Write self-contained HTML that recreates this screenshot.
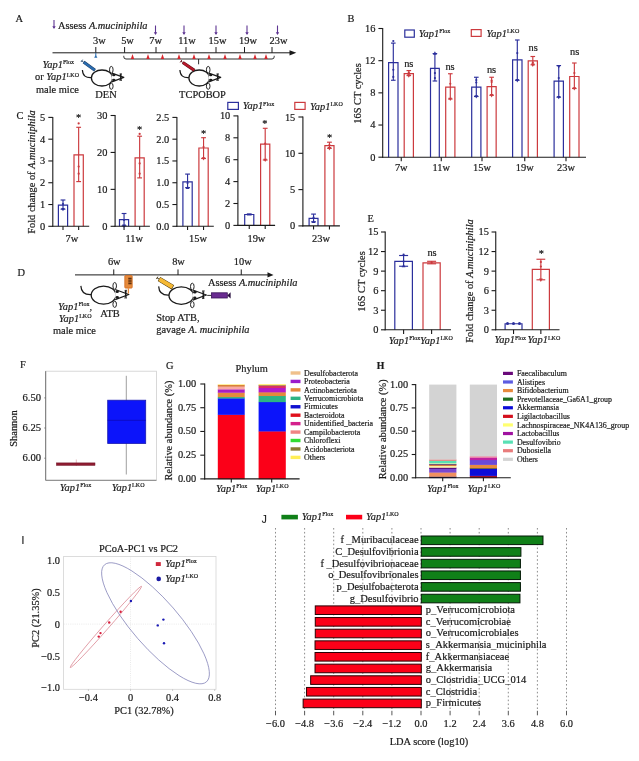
<!DOCTYPE html>
<html><head><meta charset="utf-8"><title>Figure</title>
<style>
html,body{margin:0;padding:0;background:#fff;}
svg{display:block;font-family:"Liberation Serif",serif;filter:blur(0.4px);}
text{stroke:#1a1a1a;stroke-width:0.2px;}
</style></head><body>
<svg width="639" height="761" viewBox="0 0 639 761">
<rect x="0" y="0" width="639" height="761" fill="#ffffff"/>
<text x="15.5" y="22" font-size="10.4" text-anchor="start" fill="#1a1a1a">A</text>
<line x1="54" y1="20" x2="54" y2="28" stroke="#5e3592" stroke-width="1.1"/>
<path d="M52.3,26.2 L54,29 L55.7,26.2 Z" fill="#5e3592"/>
<text x="58" y="29" font-size="10.4" fill="#1a1a1a">Assess <tspan font-style="italic">A.muciniphila</tspan></text>
<line x1="52.5" y1="52.8" x2="291" y2="52.8" stroke="#1a1a1a" stroke-width="1"/>
<path d="M289.5,50.199999999999996 L296.3,52.8 L289.5,55.4 Z" fill="#1a1a1a"/>
<line x1="95.8" y1="47.0" x2="95.8" y2="52.8" stroke="#1a1a1a" stroke-width="1"/>
<line x1="124.6" y1="47.0" x2="124.6" y2="52.8" stroke="#1a1a1a" stroke-width="1"/>
<line x1="156" y1="47.0" x2="156" y2="52.8" stroke="#1a1a1a" stroke-width="1"/>
<line x1="186" y1="47.0" x2="186" y2="52.8" stroke="#1a1a1a" stroke-width="1"/>
<line x1="216" y1="47.0" x2="216" y2="52.8" stroke="#1a1a1a" stroke-width="1"/>
<line x1="244.5" y1="47.0" x2="244.5" y2="52.8" stroke="#1a1a1a" stroke-width="1"/>
<line x1="272" y1="47.0" x2="272" y2="52.8" stroke="#1a1a1a" stroke-width="1"/>
<text x="99.4" y="44" font-size="10.4" text-anchor="middle" fill="#1a1a1a">3w</text>
<text x="127.5" y="44" font-size="10.4" text-anchor="middle" fill="#1a1a1a">5w</text>
<text x="155.6" y="44" font-size="10.4" text-anchor="middle" fill="#1a1a1a">7w</text>
<text x="187" y="44" font-size="10.4" text-anchor="middle" fill="#1a1a1a">11w</text>
<text x="217.5" y="44" font-size="10.4" text-anchor="middle" fill="#1a1a1a">15w</text>
<text x="248" y="44" font-size="10.4" text-anchor="middle" fill="#1a1a1a">19w</text>
<text x="278.5" y="44" font-size="10.4" text-anchor="middle" fill="#1a1a1a">23w</text>
<line x1="155.5" y1="25.5" x2="155.5" y2="34" stroke="#5e3592" stroke-width="1.1"/>
<path d="M153.8,32.2 L155.5,35 L157.2,32.2 Z" fill="#5e3592"/>
<line x1="184" y1="25.5" x2="184" y2="34" stroke="#5e3592" stroke-width="1.1"/>
<path d="M182.3,32.2 L184,35 L185.7,32.2 Z" fill="#5e3592"/>
<line x1="216" y1="25.5" x2="216" y2="34" stroke="#5e3592" stroke-width="1.1"/>
<path d="M214.3,32.2 L216,35 L217.7,32.2 Z" fill="#5e3592"/>
<line x1="247" y1="25.5" x2="247" y2="34" stroke="#5e3592" stroke-width="1.1"/>
<path d="M245.3,32.2 L247,35 L248.7,32.2 Z" fill="#5e3592"/>
<line x1="277.5" y1="25.5" x2="277.5" y2="34" stroke="#5e3592" stroke-width="1.1"/>
<path d="M275.8,32.2 L277.5,35 L279.2,32.2 Z" fill="#5e3592"/>
<line x1="95.8" y1="52.8" x2="95.8" y2="55.8" stroke="#2a6cb0" stroke-width="1"/>
<path d="M94.2,57.68 L97.39999999999999,57.68 L95.8,54.8 Z" fill="#2a6cb0"/>
<path d="M123.8,55.8 L123.8,56.8 Q123.8,59 126,59 L272,59 Q274.2,59 274.2,56.8 L274.2,55.8" fill="none" stroke="#1a1a1a" stroke-width="0.9"/>
<line x1="198.6" y1="59" x2="198.6" y2="64.3" stroke="#1a1a1a" stroke-width="0.9"/>
<path d="M130.8,58.9 L134.2,58.9 L132.5,54 Z" fill="#d8262c"/>
<path d="M146.3,58.9 L149.7,58.9 L148,54 Z" fill="#d8262c"/>
<path d="M160.8,58.9 L164.2,58.9 L162.5,54 Z" fill="#d8262c"/>
<path d="M177.3,58.9 L180.7,58.9 L179,54 Z" fill="#d8262c"/>
<path d="M192.3,58.9 L195.7,58.9 L194,54 Z" fill="#d8262c"/>
<path d="M207.3,58.9 L210.7,58.9 L209,54 Z" fill="#d8262c"/>
<path d="M223.3,58.9 L226.7,58.9 L225,54 Z" fill="#d8262c"/>
<path d="M238.3,58.9 L241.7,58.9 L240,54 Z" fill="#d8262c"/>
<path d="M253.3,58.9 L256.7,58.9 L255,54 Z" fill="#d8262c"/>
<path d="M264.3,58.9 L267.7,58.9 L266,54 Z" fill="#d8262c"/>
<path d="M91.4,77.5 C85.9,77.8 82.7,76.0 82.4,70.0" fill="none" stroke="#1a1a1a" stroke-width="1.2"/>
<ellipse cx="111.3" cy="69.8" rx="1.8" ry="3.4" fill="#fff" stroke="#1a1a1a" stroke-width="0.95"/>
<ellipse cx="111.3" cy="86.2" rx="1.8" ry="3.1" fill="#fff" stroke="#1a1a1a" stroke-width="0.95"/>
<ellipse cx="102" cy="78" rx="10.6" ry="8" fill="#fff" stroke="#1a1a1a" stroke-width="1.3"/>
<path d="M111.8,73.1 L123.8,77.4 L111.8,81.9" fill="#fff" stroke="#1a1a1a" stroke-width="1.25" stroke-linejoin="round"/>
<ellipse cx="113.8" cy="75.0" rx="1.7" ry="1.3" fill="#1a1a1a"/>
<ellipse cx="113.8" cy="80.0" rx="1.7" ry="1.3" fill="#1a1a1a"/>
<line x1="120.2" y1="73.4" x2="121.2" y2="81.0" stroke="#1a1a1a" stroke-width="1.2"/>
<line x1="121.5" y1="73.4" x2="119.89999999999999" y2="81.0" stroke="#1a1a1a" stroke-width="0.9"/>
<line x1="81.8140303399064" y1="60.81535515677478" x2="83.6" y2="62.1" stroke="#1c3f66" stroke-width="0.9"/>
<line x1="80.9965290760358" y1="61.95188130410707" x2="82.63153160377699" y2="59.67882900944249" stroke="#1c3f66" stroke-width="0.9"/>
<line x1="83.60" y1="62.10" x2="95.00" y2="70.30" stroke="#1c3f66" stroke-width="3.1"/>
<line x1="83.97" y1="62.36" x2="94.63" y2="70.04" stroke="#2a6cb0" stroke-width="2.2"/>
<path d="M188.89999999999998,77.5 C183.39999999999998,77.8 180.2,76.0 179.89999999999998,70.0" fill="none" stroke="#1a1a1a" stroke-width="1.2"/>
<ellipse cx="208.2" cy="69.8" rx="1.8" ry="3.4" fill="#fff" stroke="#1a1a1a" stroke-width="0.95"/>
<ellipse cx="208.2" cy="86.2" rx="1.8" ry="3.1" fill="#fff" stroke="#1a1a1a" stroke-width="0.95"/>
<ellipse cx="199.2" cy="78" rx="10.3" ry="8" fill="#fff" stroke="#1a1a1a" stroke-width="1.3"/>
<path d="M208.7,73.1 L220.7,77.4 L208.7,81.9" fill="#fff" stroke="#1a1a1a" stroke-width="1.25" stroke-linejoin="round"/>
<ellipse cx="210.7" cy="75.0" rx="1.7" ry="1.3" fill="#1a1a1a"/>
<ellipse cx="210.7" cy="80.0" rx="1.7" ry="1.3" fill="#1a1a1a"/>
<line x1="217.1" y1="73.4" x2="218.1" y2="81.0" stroke="#1a1a1a" stroke-width="1.2"/>
<line x1="218.39999999999998" y1="73.4" x2="216.79999999999998" y2="81.0" stroke="#1a1a1a" stroke-width="0.9"/>
<line x1="180.98163682498821" y1="61.26163197563851" x2="182.8" y2="62.5" stroke="#5a0c14" stroke-width="0.9"/>
<line x1="180.1935844458491" y1="62.41877217791875" x2="181.76968920412733" y2="60.10449177335827" stroke="#5a0c14" stroke-width="0.9"/>
<line x1="182.80" y1="62.50" x2="194.40" y2="70.40" stroke="#5a0c14" stroke-width="3.1"/>
<line x1="183.17" y1="62.75" x2="194.03" y2="70.15" stroke="#b8182a" stroke-width="2.2"/>
<text x="42.5" y="67.8" font-size="10.4" text-anchor="start" fill="#1a1a1a"><tspan font-style="italic">Yap1</tspan><tspan font-size="6.03" dy="-3.74">Flox</tspan></text>
<text x="35" y="80.3" font-size="10.4" text-anchor="start" fill="#1a1a1a">or <tspan font-style="italic">Yap1</tspan><tspan font-size="6.03" dy="-3.74">LKO</tspan></text>
<text x="36" y="93" font-size="10.4" text-anchor="start" fill="#1a1a1a">male mice</text>
<text x="106" y="98" font-size="10.4" text-anchor="middle" fill="#1a1a1a">DEN</text>
<text x="202.5" y="98" font-size="10.4" text-anchor="middle" fill="#1a1a1a">TCPOBOP</text>
<rect x="227.80" y="102.40" width="10.60" height="7.00" fill="#fff" stroke="#2b2f9c" stroke-width="1.2"/>
<text x="242.7" y="109.4" font-size="10.4" text-anchor="start" fill="#1a1a1a"><tspan font-style="italic">Yap1</tspan><tspan font-size="6.03" dy="-3.74">Flox</tspan></text>
<rect x="294.80" y="102.40" width="10.30" height="7.00" fill="#fff" stroke="#cc3a3e" stroke-width="1.2"/>
<text x="310" y="109.5" font-size="10.4" text-anchor="start" fill="#1a1a1a"><tspan font-style="italic">Yap1</tspan><tspan font-size="6.03" dy="-3.74">LKO</tspan></text>
<text x="347.5" y="22" font-size="10.4" text-anchor="start" fill="#1a1a1a">B</text>
<path d="M388.60,157.20 L388.60,62.69 L398.00,62.69 L398.00,157.20" fill="#fff" stroke="#2b2f9c" stroke-width="1.2" stroke-linejoin="miter"/>
<line x1="393.3" y1="43.1" x2="393.3" y2="80.25" stroke="#2b2f9c" stroke-width="1.15"/>
<line x1="391.0" y1="43.1" x2="395.6" y2="43.1" stroke="#2b2f9c" stroke-width="1.15"/>
<line x1="391.0" y1="80.25" x2="395.6" y2="80.25" stroke="#2b2f9c" stroke-width="1.15"/>
<circle cx="393.3" cy="41" r="1.1" fill="#2b2f9c"/>
<circle cx="393.3" cy="69.75" r="1.1" fill="#2b2f9c"/>
<circle cx="393.3" cy="76.9" r="1.1" fill="#2b2f9c"/>
<path d="M404.20,157.20 L404.20,73.54 L413.40,73.54 L413.40,157.20" fill="#fff" stroke="#cc3a3e" stroke-width="1.2" stroke-linejoin="miter"/>
<line x1="408.8" y1="70.6" x2="408.8" y2="75.6" stroke="#cc3a3e" stroke-width="1.15"/>
<line x1="406.5" y1="70.6" x2="411.1" y2="70.6" stroke="#cc3a3e" stroke-width="1.15"/>
<line x1="406.5" y1="75.6" x2="411.1" y2="75.6" stroke="#cc3a3e" stroke-width="1.15"/>
<circle cx="408.8" cy="72.6" r="1.1" fill="#cc3a3e"/>
<path d="M406.90000000000003,74.28 L410.7,74.28 L408.8,77.7 Z" fill="#cc3a3e"/>
<path d="M430.50,157.20 L430.50,68.32 L439.30,68.32 L439.30,157.20" fill="#fff" stroke="#2b2f9c" stroke-width="1.2" stroke-linejoin="miter"/>
<line x1="434.9" y1="53.6" x2="434.9" y2="81" stroke="#2b2f9c" stroke-width="1.15"/>
<line x1="432.59999999999997" y1="53.6" x2="437.2" y2="53.6" stroke="#2b2f9c" stroke-width="1.15"/>
<line x1="432.59999999999997" y1="81" x2="437.2" y2="81" stroke="#2b2f9c" stroke-width="1.15"/>
<path d="M433.0,54.720000000000006 L436.79999999999995,54.720000000000006 L434.9,51.300000000000004 Z" fill="#2b2f9c"/>
<circle cx="434.9" cy="73.1" r="1.1" fill="#2b2f9c"/>
<circle cx="434.9" cy="78.1" r="1.1" fill="#2b2f9c"/>
<path d="M445.70,157.20 L445.70,87.22 L454.90,87.22 L454.90,157.20" fill="#fff" stroke="#cc3a3e" stroke-width="1.2" stroke-linejoin="miter"/>
<line x1="450.3" y1="73.75" x2="450.3" y2="99" stroke="#cc3a3e" stroke-width="1.15"/>
<line x1="448.0" y1="73.75" x2="452.6" y2="73.75" stroke="#cc3a3e" stroke-width="1.15"/>
<line x1="448.0" y1="99" x2="452.6" y2="99" stroke="#cc3a3e" stroke-width="1.15"/>
<circle cx="450.3" cy="83.75" r="1.1" fill="#cc3a3e"/>
<path d="M448.40000000000003,97.68 L452.2,97.68 L450.3,101.10000000000001 Z" fill="#cc3a3e"/>
<path d="M471.70,157.20 L471.70,87.22 L480.90,87.22 L480.90,157.20" fill="#fff" stroke="#2b2f9c" stroke-width="1.2" stroke-linejoin="miter"/>
<line x1="476.3" y1="77.25" x2="476.3" y2="96.5" stroke="#2b2f9c" stroke-width="1.15"/>
<line x1="474.0" y1="77.25" x2="478.6" y2="77.25" stroke="#2b2f9c" stroke-width="1.15"/>
<line x1="474.0" y1="96.5" x2="478.6" y2="96.5" stroke="#2b2f9c" stroke-width="1.15"/>
<circle cx="476.3" cy="80" r="1.1" fill="#2b2f9c"/>
<circle cx="476.3" cy="82.5" r="1.1" fill="#2b2f9c"/>
<path d="M474.40000000000003,95.18 L478.2,95.18 L476.3,98.60000000000001 Z" fill="#2b2f9c"/>
<path d="M487.10,157.20 L487.10,86.58 L496.15,86.58 L496.15,157.20" fill="#fff" stroke="#cc3a3e" stroke-width="1.2" stroke-linejoin="miter"/>
<line x1="491.625" y1="77.25" x2="491.625" y2="95.3" stroke="#cc3a3e" stroke-width="1.15"/>
<line x1="489.325" y1="77.25" x2="493.925" y2="77.25" stroke="#cc3a3e" stroke-width="1.15"/>
<line x1="489.325" y1="95.3" x2="493.925" y2="95.3" stroke="#cc3a3e" stroke-width="1.15"/>
<circle cx="491.625" cy="80.6" r="1.1" fill="#cc3a3e"/>
<circle cx="491.625" cy="82" r="1.1" fill="#cc3a3e"/>
<path d="M489.725,93.98 L493.525,93.98 L491.625,97.4 Z" fill="#cc3a3e"/>
<path d="M512.60,157.20 L512.60,59.87 L522.00,59.87 L522.00,157.20" fill="#fff" stroke="#2b2f9c" stroke-width="1.2" stroke-linejoin="miter"/>
<line x1="517.3" y1="40" x2="517.3" y2="80.3" stroke="#2b2f9c" stroke-width="1.15"/>
<line x1="515.0" y1="40" x2="519.5999999999999" y2="40" stroke="#2b2f9c" stroke-width="1.15"/>
<line x1="515.0" y1="80.3" x2="519.5999999999999" y2="80.3" stroke="#2b2f9c" stroke-width="1.15"/>
<circle cx="517.3" cy="53.1" r="1.1" fill="#2b2f9c"/>
<path d="M515.4,78.98 L519.1999999999999,78.98 L517.3,82.4 Z" fill="#2b2f9c"/>
<path d="M528.20,157.20 L528.20,60.92 L537.40,60.92 L537.40,157.20" fill="#fff" stroke="#cc3a3e" stroke-width="1.2" stroke-linejoin="miter"/>
<line x1="532.8" y1="56.5" x2="532.8" y2="64.8" stroke="#cc3a3e" stroke-width="1.15"/>
<line x1="530.5" y1="56.5" x2="535.0999999999999" y2="56.5" stroke="#cc3a3e" stroke-width="1.15"/>
<line x1="530.5" y1="64.8" x2="535.0999999999999" y2="64.8" stroke="#cc3a3e" stroke-width="1.15"/>
<circle cx="532.8" cy="62.75" r="1.1" fill="#cc3a3e"/>
<path d="M530.9,63.48 L534.6999999999999,63.48 L532.8,66.9 Z" fill="#cc3a3e"/>
<path d="M554.10,157.20 L554.10,81.03 L563.40,81.03 L563.40,157.20" fill="#fff" stroke="#2b2f9c" stroke-width="1.2" stroke-linejoin="miter"/>
<line x1="558.75" y1="65.6" x2="558.75" y2="97.2" stroke="#2b2f9c" stroke-width="1.15"/>
<line x1="556.45" y1="65.6" x2="561.05" y2="65.6" stroke="#2b2f9c" stroke-width="1.15"/>
<line x1="556.45" y1="97.2" x2="561.05" y2="97.2" stroke="#2b2f9c" stroke-width="1.15"/>
<path d="M556.85,65.08 L560.65,65.08 L558.75,68.5 Z" fill="#2b2f9c"/>
<circle cx="558.75" cy="78" r="1.1" fill="#2b2f9c"/>
<path d="M556.85,95.88000000000001 L560.65,95.88000000000001 L558.75,99.30000000000001 Z" fill="#2b2f9c"/>
<path d="M569.70,157.20 L569.70,76.52 L579.00,76.52 L579.00,157.20" fill="#fff" stroke="#cc3a3e" stroke-width="1.2" stroke-linejoin="miter"/>
<line x1="574.35" y1="63" x2="574.35" y2="88.5" stroke="#cc3a3e" stroke-width="1.15"/>
<line x1="572.0500000000001" y1="63" x2="576.65" y2="63" stroke="#cc3a3e" stroke-width="1.15"/>
<line x1="572.0500000000001" y1="88.5" x2="576.65" y2="88.5" stroke="#cc3a3e" stroke-width="1.15"/>
<circle cx="574.35" cy="73" r="1.1" fill="#cc3a3e"/>
<path d="M572.45,87.18 L576.25,87.18 L574.35,90.60000000000001 Z" fill="#cc3a3e"/>
<line x1="382.7" y1="28.0" x2="382.7" y2="157.7" stroke="#1a1a1a" stroke-width="1.1"/>
<line x1="382.2" y1="157.2" x2="586" y2="157.2" stroke="#1a1a1a" stroke-width="1.1"/>
<line x1="378.4" y1="157.2" x2="382.7" y2="157.2" stroke="#1a1a1a" stroke-width="1.1"/>
<text x="375.5" y="160.6" font-size="10.4" text-anchor="end" fill="#1a1a1a">0</text>
<line x1="378.4" y1="125.02499999999999" x2="382.7" y2="125.02499999999999" stroke="#1a1a1a" stroke-width="1.1"/>
<text x="375.5" y="128.42499999999998" font-size="10.4" text-anchor="end" fill="#1a1a1a">4</text>
<line x1="378.4" y1="92.85" x2="382.7" y2="92.85" stroke="#1a1a1a" stroke-width="1.1"/>
<text x="375.5" y="96.25" font-size="10.4" text-anchor="end" fill="#1a1a1a">8</text>
<line x1="378.4" y1="60.675" x2="382.7" y2="60.675" stroke="#1a1a1a" stroke-width="1.1"/>
<text x="375.5" y="64.075" font-size="10.4" text-anchor="end" fill="#1a1a1a">12</text>
<line x1="378.4" y1="28.5" x2="382.7" y2="28.5" stroke="#1a1a1a" stroke-width="1.1"/>
<text x="375.5" y="31.9" font-size="10.4" text-anchor="end" fill="#1a1a1a">16</text>
<line x1="401.25" y1="157.2" x2="401.25" y2="161.2" stroke="#1a1a1a" stroke-width="1.1"/>
<text x="401.25" y="171" font-size="10.4" text-anchor="middle" fill="#1a1a1a">7w</text>
<text x="408.75" y="66.9" font-size="10.4" text-anchor="middle" fill="#1a1a1a">ns</text>
<line x1="441.25" y1="157.2" x2="441.25" y2="161.2" stroke="#1a1a1a" stroke-width="1.1"/>
<text x="441.25" y="171" font-size="10.4" text-anchor="middle" fill="#1a1a1a">11w</text>
<text x="450" y="69.75" font-size="10.4" text-anchor="middle" fill="#1a1a1a">ns</text>
<line x1="482" y1="157.2" x2="482" y2="161.2" stroke="#1a1a1a" stroke-width="1.1"/>
<text x="482" y="171" font-size="10.4" text-anchor="middle" fill="#1a1a1a">15w</text>
<text x="491.5" y="72.5" font-size="10.4" text-anchor="middle" fill="#1a1a1a">ns</text>
<line x1="524.75" y1="157.2" x2="524.75" y2="161.2" stroke="#1a1a1a" stroke-width="1.1"/>
<text x="524.75" y="171" font-size="10.4" text-anchor="middle" fill="#1a1a1a">19w</text>
<text x="533.1" y="51" font-size="10.4" text-anchor="middle" fill="#1a1a1a">ns</text>
<line x1="566" y1="157.2" x2="566" y2="161.2" stroke="#1a1a1a" stroke-width="1.1"/>
<text x="566" y="171" font-size="10.4" text-anchor="middle" fill="#1a1a1a">23w</text>
<text x="574.6" y="54.75" font-size="10.4" text-anchor="middle" fill="#1a1a1a">ns</text>
<text x="361" y="93.5" font-size="10.4" text-anchor="middle" fill="#1a1a1a" transform="rotate(-90 361 93.5)">16S CT cycles</text>
<rect x="404.80" y="30.00" width="9.50" height="7.20" fill="#fff" stroke="#2b2f9c" stroke-width="1.2"/>
<text x="418.75" y="37.2" font-size="10.4" text-anchor="start" fill="#1a1a1a"><tspan font-style="italic">Yap1</tspan><tspan font-size="6.03" dy="-3.74">Flox</tspan></text>
<rect x="471.30" y="29.60" width="9.80" height="6.80" fill="#fff" stroke="#cc3a3e" stroke-width="1.2"/>
<text x="486.5" y="37.2" font-size="10.4" text-anchor="start" fill="#1a1a1a"><tspan font-style="italic">Yap1</tspan><tspan font-size="6.03" dy="-3.74">LKO</tspan></text>
<text x="16.5" y="119" font-size="10.4" text-anchor="start" fill="#1a1a1a">C</text>
<text x="34.5" y="172" font-size="10.4" text-anchor="middle" fill="#1a1a1a" transform="rotate(-90 34.5 172)">Fold change of <tspan font-style="italic">A.muciniphila</tspan></text>
<path d="M58.40,226.30 L58.40,205.10 L67.60,205.10 L67.60,226.30" fill="#fff" stroke="#2b2f9c" stroke-width="1.2" stroke-linejoin="miter"/>
<line x1="63.0" y1="226.3" x2="63.0" y2="229.9" stroke="#1a1a1a" stroke-width="1.1"/>
<line x1="63.0" y1="200" x2="63.0" y2="209.2" stroke="#2b2f9c" stroke-width="1.15"/>
<line x1="60.6" y1="200" x2="65.4" y2="200" stroke="#2b2f9c" stroke-width="1.15"/>
<line x1="60.6" y1="209.2" x2="65.4" y2="209.2" stroke="#2b2f9c" stroke-width="1.15"/>
<circle cx="63.0" cy="204" r="1.1" fill="#2b2f9c"/>
<path d="M61.1,207.88 L64.9,207.88 L63.0,211.3 Z" fill="#2b2f9c"/>
<path d="M74.00,226.30 L74.00,154.90 L83.30,154.90 L83.30,226.30" fill="#fff" stroke="#cc3a3e" stroke-width="1.2" stroke-linejoin="miter"/>
<line x1="78.65" y1="226.3" x2="78.65" y2="229.9" stroke="#1a1a1a" stroke-width="1.1"/>
<line x1="78.65" y1="127.3" x2="78.65" y2="181.6" stroke="#cc3a3e" stroke-width="1.15"/>
<line x1="76.25" y1="127.3" x2="81.05000000000001" y2="127.3" stroke="#cc3a3e" stroke-width="1.15"/>
<line x1="76.25" y1="181.6" x2="81.05000000000001" y2="181.6" stroke="#cc3a3e" stroke-width="1.15"/>
<circle cx="78.65" cy="123.4" r="1.1" fill="#cc3a3e"/>
<circle cx="78.65" cy="166.6" r="1.1" fill="#cc3a3e"/>
<circle cx="78.65" cy="173.7" r="1.1" fill="#cc3a3e"/>
<line x1="52.8" y1="116.9" x2="52.8" y2="226.8" stroke="#1a1a1a" stroke-width="1.1"/>
<line x1="52.3" y1="226.3" x2="89.2" y2="226.3" stroke="#1a1a1a" stroke-width="1.1"/>
<line x1="48.3" y1="226.3" x2="52.8" y2="226.3" stroke="#1a1a1a" stroke-width="1.1"/>
<text x="45.199999999999996" y="229.8" font-size="10.4" text-anchor="end" fill="#1a1a1a">0</text>
<line x1="48.3" y1="204.52" x2="52.8" y2="204.52" stroke="#1a1a1a" stroke-width="1.1"/>
<text x="45.199999999999996" y="208.02" font-size="10.4" text-anchor="end" fill="#1a1a1a">1</text>
<line x1="48.3" y1="182.74" x2="52.8" y2="182.74" stroke="#1a1a1a" stroke-width="1.1"/>
<text x="45.199999999999996" y="186.24" font-size="10.4" text-anchor="end" fill="#1a1a1a">2</text>
<line x1="48.3" y1="160.96" x2="52.8" y2="160.96" stroke="#1a1a1a" stroke-width="1.1"/>
<text x="45.199999999999996" y="164.46" font-size="10.4" text-anchor="end" fill="#1a1a1a">3</text>
<line x1="48.3" y1="139.18" x2="52.8" y2="139.18" stroke="#1a1a1a" stroke-width="1.1"/>
<text x="45.199999999999996" y="142.68" font-size="10.4" text-anchor="end" fill="#1a1a1a">4</text>
<line x1="48.3" y1="117.4" x2="52.8" y2="117.4" stroke="#1a1a1a" stroke-width="1.1"/>
<text x="45.199999999999996" y="120.9" font-size="10.4" text-anchor="end" fill="#1a1a1a">5</text>
<text x="78.7" y="121.3" font-size="10.4" text-anchor="middle" fill="#1a1a1a">*</text>
<text x="71.8" y="241.8" font-size="10.4" text-anchor="middle" fill="#1a1a1a">7w</text>
<path d="M119.50,226.30 L119.50,219.70 L128.60,219.70 L128.60,226.30" fill="#fff" stroke="#2b2f9c" stroke-width="1.2" stroke-linejoin="miter"/>
<line x1="124.05" y1="226.3" x2="124.05" y2="229.9" stroke="#1a1a1a" stroke-width="1.1"/>
<line x1="124.05" y1="213.5" x2="124.05" y2="225.8" stroke="#2b2f9c" stroke-width="1.15"/>
<line x1="121.64999999999999" y1="213.5" x2="126.45" y2="213.5" stroke="#2b2f9c" stroke-width="1.15"/>
<line x1="121.64999999999999" y1="225.8" x2="126.45" y2="225.8" stroke="#2b2f9c" stroke-width="1.15"/>
<circle cx="124.05" cy="220" r="1.1" fill="#2b2f9c"/>
<path d="M122.14999999999999,224.48 L125.95,224.48 L124.05,227.9 Z" fill="#2b2f9c"/>
<path d="M135.10,226.30 L135.10,157.80 L144.20,157.80 L144.20,226.30" fill="#fff" stroke="#cc3a3e" stroke-width="1.2" stroke-linejoin="miter"/>
<line x1="139.65" y1="226.3" x2="139.65" y2="229.9" stroke="#1a1a1a" stroke-width="1.1"/>
<line x1="139.65" y1="136.2" x2="139.65" y2="177.9" stroke="#cc3a3e" stroke-width="1.15"/>
<line x1="137.25" y1="136.2" x2="142.05" y2="136.2" stroke="#cc3a3e" stroke-width="1.15"/>
<line x1="137.25" y1="177.9" x2="142.05" y2="177.9" stroke="#cc3a3e" stroke-width="1.15"/>
<circle cx="139.65" cy="133.9" r="1.1" fill="#cc3a3e"/>
<circle cx="139.65" cy="163.4" r="1.1" fill="#cc3a3e"/>
<circle cx="139.65" cy="173.7" r="1.1" fill="#cc3a3e"/>
<line x1="115.1" y1="115.0" x2="115.1" y2="226.8" stroke="#1a1a1a" stroke-width="1.1"/>
<line x1="114.6" y1="226.3" x2="149.9" y2="226.3" stroke="#1a1a1a" stroke-width="1.1"/>
<line x1="110.6" y1="226.3" x2="115.1" y2="226.3" stroke="#1a1a1a" stroke-width="1.1"/>
<text x="107.5" y="229.8" font-size="10.4" text-anchor="end" fill="#1a1a1a">0</text>
<line x1="110.6" y1="189.36666666666667" x2="115.1" y2="189.36666666666667" stroke="#1a1a1a" stroke-width="1.1"/>
<text x="107.5" y="192.86666666666667" font-size="10.4" text-anchor="end" fill="#1a1a1a">10</text>
<line x1="110.6" y1="152.43333333333334" x2="115.1" y2="152.43333333333334" stroke="#1a1a1a" stroke-width="1.1"/>
<text x="107.5" y="155.93333333333334" font-size="10.4" text-anchor="end" fill="#1a1a1a">20</text>
<line x1="110.6" y1="115.5" x2="115.1" y2="115.5" stroke="#1a1a1a" stroke-width="1.1"/>
<text x="107.5" y="119.0" font-size="10.4" text-anchor="end" fill="#1a1a1a">30</text>
<text x="139.5" y="132.6" font-size="10.4" text-anchor="middle" fill="#1a1a1a">*</text>
<text x="134.3" y="241.8" font-size="10.4" text-anchor="middle" fill="#1a1a1a">11w</text>
<path d="M182.90,226.30 L182.90,181.80 L192.20,181.80 L192.20,226.30" fill="#fff" stroke="#2b2f9c" stroke-width="1.2" stroke-linejoin="miter"/>
<line x1="187.55" y1="226.3" x2="187.55" y2="229.9" stroke="#1a1a1a" stroke-width="1.1"/>
<line x1="187.55" y1="174.1" x2="187.55" y2="187.6" stroke="#2b2f9c" stroke-width="1.15"/>
<line x1="185.15" y1="174.1" x2="189.95000000000002" y2="174.1" stroke="#2b2f9c" stroke-width="1.15"/>
<line x1="185.15" y1="187.6" x2="189.95000000000002" y2="187.6" stroke="#2b2f9c" stroke-width="1.15"/>
<circle cx="187.55" cy="183" r="1.1" fill="#2b2f9c"/>
<path d="M185.65,188.92000000000002 L189.45000000000002,188.92000000000002 L187.55,185.5 Z" fill="#2b2f9c"/>
<path d="M198.90,226.30 L198.90,148.00 L208.20,148.00 L208.20,226.30" fill="#fff" stroke="#cc3a3e" stroke-width="1.2" stroke-linejoin="miter"/>
<line x1="203.55" y1="226.3" x2="203.55" y2="229.9" stroke="#1a1a1a" stroke-width="1.1"/>
<line x1="203.55" y1="137.7" x2="203.55" y2="158.5" stroke="#cc3a3e" stroke-width="1.15"/>
<line x1="201.15" y1="137.7" x2="205.95000000000002" y2="137.7" stroke="#cc3a3e" stroke-width="1.15"/>
<line x1="201.15" y1="158.5" x2="205.95000000000002" y2="158.5" stroke="#cc3a3e" stroke-width="1.15"/>
<circle cx="203.55" cy="147" r="1.1" fill="#cc3a3e"/>
<path d="M201.65,157.17999999999998 L205.45000000000002,157.17999999999998 L203.55,160.6 Z" fill="#cc3a3e"/>
<line x1="176.9" y1="116.9" x2="176.9" y2="226.8" stroke="#1a1a1a" stroke-width="1.1"/>
<line x1="176.4" y1="226.3" x2="213.8" y2="226.3" stroke="#1a1a1a" stroke-width="1.1"/>
<line x1="172.4" y1="226.3" x2="176.9" y2="226.3" stroke="#1a1a1a" stroke-width="1.1"/>
<text x="169.3" y="229.8" font-size="10.4" text-anchor="end" fill="#1a1a1a">0.0</text>
<line x1="172.4" y1="204.52" x2="176.9" y2="204.52" stroke="#1a1a1a" stroke-width="1.1"/>
<text x="169.3" y="208.02" font-size="10.4" text-anchor="end" fill="#1a1a1a">0.5</text>
<line x1="172.4" y1="182.74" x2="176.9" y2="182.74" stroke="#1a1a1a" stroke-width="1.1"/>
<text x="169.3" y="186.24" font-size="10.4" text-anchor="end" fill="#1a1a1a">1.0</text>
<line x1="172.4" y1="160.96" x2="176.9" y2="160.96" stroke="#1a1a1a" stroke-width="1.1"/>
<text x="169.3" y="164.46" font-size="10.4" text-anchor="end" fill="#1a1a1a">1.5</text>
<line x1="172.4" y1="139.18" x2="176.9" y2="139.18" stroke="#1a1a1a" stroke-width="1.1"/>
<text x="169.3" y="142.68" font-size="10.4" text-anchor="end" fill="#1a1a1a">2.0</text>
<line x1="172.4" y1="117.4" x2="176.9" y2="117.4" stroke="#1a1a1a" stroke-width="1.1"/>
<text x="169.3" y="120.9" font-size="10.4" text-anchor="end" fill="#1a1a1a">2.5</text>
<text x="203.5" y="136.7" font-size="10.4" text-anchor="middle" fill="#1a1a1a">*</text>
<text x="198" y="241.8" font-size="10.4" text-anchor="middle" fill="#1a1a1a">15w</text>
<path d="M244.70,225.40 L244.70,214.50 L253.80,214.50 L253.80,225.40" fill="#fff" stroke="#2b2f9c" stroke-width="1.2" stroke-linejoin="miter"/>
<line x1="249.25" y1="225.4" x2="249.25" y2="229.0" stroke="#1a1a1a" stroke-width="1.1"/>
<line x1="249.25" y1="213.9" x2="249.25" y2="214.9" stroke="#2b2f9c" stroke-width="1.15"/>
<line x1="246.85" y1="213.9" x2="251.65" y2="213.9" stroke="#2b2f9c" stroke-width="1.15"/>
<line x1="246.85" y1="214.9" x2="251.65" y2="214.9" stroke="#2b2f9c" stroke-width="1.15"/>
<path d="M260.60,225.40 L260.60,144.20 L269.80,144.20 L269.80,225.40" fill="#fff" stroke="#cc3a3e" stroke-width="1.2" stroke-linejoin="miter"/>
<line x1="265.2" y1="225.4" x2="265.2" y2="229.0" stroke="#1a1a1a" stroke-width="1.1"/>
<line x1="265.2" y1="128.3" x2="265.2" y2="160" stroke="#cc3a3e" stroke-width="1.15"/>
<line x1="262.8" y1="128.3" x2="267.59999999999997" y2="128.3" stroke="#cc3a3e" stroke-width="1.15"/>
<line x1="262.8" y1="160" x2="267.59999999999997" y2="160" stroke="#cc3a3e" stroke-width="1.15"/>
<circle cx="265.2" cy="143.5" r="1.1" fill="#cc3a3e"/>
<path d="M263.3,158.67999999999998 L267.09999999999997,158.67999999999998 L265.2,162.1 Z" fill="#cc3a3e"/>
<line x1="237.9" y1="115.4" x2="237.9" y2="225.9" stroke="#1a1a1a" stroke-width="1.1"/>
<line x1="237.4" y1="225.4" x2="275.1" y2="225.4" stroke="#1a1a1a" stroke-width="1.1"/>
<line x1="233.4" y1="225.4" x2="237.9" y2="225.4" stroke="#1a1a1a" stroke-width="1.1"/>
<text x="230.3" y="228.9" font-size="10.4" text-anchor="end" fill="#1a1a1a">0</text>
<line x1="233.4" y1="203.5" x2="237.9" y2="203.5" stroke="#1a1a1a" stroke-width="1.1"/>
<text x="230.3" y="207.0" font-size="10.4" text-anchor="end" fill="#1a1a1a">2</text>
<line x1="233.4" y1="181.60000000000002" x2="237.9" y2="181.60000000000002" stroke="#1a1a1a" stroke-width="1.1"/>
<text x="230.3" y="185.10000000000002" font-size="10.4" text-anchor="end" fill="#1a1a1a">4</text>
<line x1="233.4" y1="159.70000000000002" x2="237.9" y2="159.70000000000002" stroke="#1a1a1a" stroke-width="1.1"/>
<text x="230.3" y="163.20000000000002" font-size="10.4" text-anchor="end" fill="#1a1a1a">6</text>
<line x1="233.4" y1="137.8" x2="237.9" y2="137.8" stroke="#1a1a1a" stroke-width="1.1"/>
<text x="230.3" y="141.3" font-size="10.4" text-anchor="end" fill="#1a1a1a">8</text>
<line x1="233.4" y1="115.9" x2="237.9" y2="115.9" stroke="#1a1a1a" stroke-width="1.1"/>
<text x="230.3" y="119.4" font-size="10.4" text-anchor="end" fill="#1a1a1a">10</text>
<text x="264.9" y="126.9" font-size="10.4" text-anchor="middle" fill="#1a1a1a">*</text>
<text x="256.4" y="241.8" font-size="10.4" text-anchor="middle" fill="#1a1a1a">19w</text>
<path d="M309.10,225.90 L309.10,218.40 L318.00,218.40 L318.00,225.90" fill="#fff" stroke="#2b2f9c" stroke-width="1.2" stroke-linejoin="miter"/>
<line x1="313.55" y1="225.9" x2="313.55" y2="229.5" stroke="#1a1a1a" stroke-width="1.1"/>
<line x1="313.55" y1="214.1" x2="313.55" y2="221.8" stroke="#2b2f9c" stroke-width="1.15"/>
<line x1="311.15000000000003" y1="214.1" x2="315.95" y2="214.1" stroke="#2b2f9c" stroke-width="1.15"/>
<line x1="311.15000000000003" y1="221.8" x2="315.95" y2="221.8" stroke="#2b2f9c" stroke-width="1.15"/>
<circle cx="313.55" cy="217.5" r="1.1" fill="#2b2f9c"/>
<path d="M311.65000000000003,223.12 L315.45,223.12 L313.55,219.7 Z" fill="#2b2f9c"/>
<path d="M324.90,225.90 L324.90,145.60 L334.00,145.60 L334.00,225.90" fill="#fff" stroke="#cc3a3e" stroke-width="1.2" stroke-linejoin="miter"/>
<line x1="329.45000000000005" y1="225.9" x2="329.45000000000005" y2="229.5" stroke="#1a1a1a" stroke-width="1.1"/>
<line x1="329.45000000000005" y1="142.2" x2="329.45000000000005" y2="148.3" stroke="#cc3a3e" stroke-width="1.15"/>
<line x1="327.05000000000007" y1="142.2" x2="331.85" y2="142.2" stroke="#cc3a3e" stroke-width="1.15"/>
<line x1="327.05000000000007" y1="148.3" x2="331.85" y2="148.3" stroke="#cc3a3e" stroke-width="1.15"/>
<circle cx="329.45000000000005" cy="145" r="1.1" fill="#cc3a3e"/>
<path d="M327.55000000000007,146.98 L331.35,146.98 L329.45000000000005,150.4 Z" fill="#cc3a3e"/>
<line x1="302.9" y1="116.5" x2="302.9" y2="226.4" stroke="#1a1a1a" stroke-width="1.1"/>
<line x1="302.4" y1="225.9" x2="339.9" y2="225.9" stroke="#1a1a1a" stroke-width="1.1"/>
<line x1="298.4" y1="225.9" x2="302.9" y2="225.9" stroke="#1a1a1a" stroke-width="1.1"/>
<text x="295.29999999999995" y="229.4" font-size="10.4" text-anchor="end" fill="#1a1a1a">0</text>
<line x1="298.4" y1="189.6" x2="302.9" y2="189.6" stroke="#1a1a1a" stroke-width="1.1"/>
<text x="295.29999999999995" y="193.1" font-size="10.4" text-anchor="end" fill="#1a1a1a">5</text>
<line x1="298.4" y1="153.3" x2="302.9" y2="153.3" stroke="#1a1a1a" stroke-width="1.1"/>
<text x="295.29999999999995" y="156.8" font-size="10.4" text-anchor="end" fill="#1a1a1a">10</text>
<line x1="298.4" y1="117.0" x2="302.9" y2="117.0" stroke="#1a1a1a" stroke-width="1.1"/>
<text x="295.29999999999995" y="120.5" font-size="10.4" text-anchor="end" fill="#1a1a1a">15</text>
<text x="329.5" y="141.4" font-size="10.4" text-anchor="middle" fill="#1a1a1a">*</text>
<text x="321" y="241.8" font-size="10.4" text-anchor="middle" fill="#1a1a1a">23w</text>
<text x="17.5" y="275.5" font-size="10.4" text-anchor="start" fill="#1a1a1a">D</text>
<line x1="75" y1="274.9" x2="269" y2="274.9" stroke="#1a1a1a" stroke-width="1"/>
<path d="M267.5,272.2 L273.5,274.9 L267.5,277.59999999999997 Z" fill="#1a1a1a"/>
<line x1="113.75" y1="269.4" x2="113.75" y2="274.9" stroke="#1a1a1a" stroke-width="1"/>
<text x="114.25" y="265" font-size="10.4" text-anchor="middle" fill="#1a1a1a">6w</text>
<line x1="178" y1="269.4" x2="178" y2="274.9" stroke="#1a1a1a" stroke-width="1"/>
<text x="178.5" y="265" font-size="10.4" text-anchor="middle" fill="#1a1a1a">8w</text>
<line x1="241.25" y1="269.4" x2="241.25" y2="274.9" stroke="#1a1a1a" stroke-width="1"/>
<text x="242.75" y="265" font-size="10.4" text-anchor="middle" fill="#1a1a1a">10w</text>
<path d="M91.19999999999999,294.6 C84.87499999999999,294.90000000000003 81.195,292.8 80.85,285.90000000000003" fill="none" stroke="#1a1a1a" stroke-width="1.2"/>
<ellipse cx="114.7" cy="285.90000000000003" rx="1.8" ry="3.4" fill="#fff" stroke="#1a1a1a" stroke-width="0.95"/>
<ellipse cx="114.7" cy="304.3" rx="1.8" ry="3.1" fill="#fff" stroke="#1a1a1a" stroke-width="0.95"/>
<ellipse cx="103.6" cy="295.1" rx="12.4" ry="9" fill="#fff" stroke="#1a1a1a" stroke-width="1.3"/>
<path d="M115.2,289.46500000000003 L128.8,294.5 L115.2,299.58500000000004" fill="#fff" stroke="#1a1a1a" stroke-width="1.25" stroke-linejoin="round"/>
<ellipse cx="117.2" cy="291.65000000000003" rx="1.7" ry="1.3" fill="#1a1a1a"/>
<ellipse cx="117.2" cy="297.40000000000003" rx="1.7" ry="1.3" fill="#1a1a1a"/>
<line x1="125.20000000000002" y1="289.81" x2="126.20000000000002" y2="298.55" stroke="#1a1a1a" stroke-width="1.2"/>
<line x1="126.50000000000001" y1="289.81" x2="124.9" y2="298.55" stroke="#1a1a1a" stroke-width="0.9"/>
<rect x="124.80" y="275.50" width="7.40" height="12.60" fill="#e58a3c" stroke="#d2691e" stroke-width="0.8" rx="0.8"/>
<line x1="128.3" y1="278.3" x2="131.6" y2="278.3" stroke="#4a2208" stroke-width="1.1"/>
<line x1="128.3" y1="280.1" x2="131.6" y2="280.1" stroke="#4a2208" stroke-width="1.1"/>
<line x1="128.3" y1="281.9" x2="131.6" y2="281.9" stroke="#4a2208" stroke-width="1.1"/>
<line x1="128.3" y1="283.7" x2="131.6" y2="283.7" stroke="#4a2208" stroke-width="1.1"/>
<line x1="128.4" y1="288.2" x2="128.4" y2="293.6" stroke="#e58a3c" stroke-width="1.3"/>
<text x="58" y="309.5" font-size="10.4" text-anchor="start" fill="#1a1a1a"><tspan font-style="italic">Yap1</tspan><tspan font-size="6.03" dy="-3.74">Flox</tspan><tspan dy="3.74">,</tspan></text>
<text x="58.75" y="322.1" font-size="10.4" text-anchor="start" fill="#1a1a1a"><tspan font-style="italic">Yap1</tspan><tspan font-size="6.03" dy="-3.74">LKO</tspan></text>
<text x="53" y="334.3" font-size="10.4" text-anchor="start" fill="#1a1a1a">male mice</text>
<text x="110" y="317" font-size="10.4" text-anchor="middle" fill="#1a1a1a">ATB</text>
<path d="M169.0,295.1 C162.675,295.40000000000003 158.995,293.3 158.65,286.40000000000003" fill="none" stroke="#1a1a1a" stroke-width="1.2"/>
<ellipse cx="192.3" cy="286.6" rx="1.8" ry="3.4" fill="#fff" stroke="#1a1a1a" stroke-width="0.95"/>
<ellipse cx="192.3" cy="304.6" rx="1.8" ry="3.1" fill="#fff" stroke="#1a1a1a" stroke-width="0.95"/>
<ellipse cx="181.3" cy="295.6" rx="12.3" ry="8.8" fill="#fff" stroke="#1a1a1a" stroke-width="1.3"/>
<path d="M192.8,289.96500000000003 L206.40000000000003,295.0 L192.8,300.08500000000004" fill="#fff" stroke="#1a1a1a" stroke-width="1.25" stroke-linejoin="round"/>
<ellipse cx="194.8" cy="292.15000000000003" rx="1.7" ry="1.3" fill="#1a1a1a"/>
<ellipse cx="194.8" cy="297.90000000000003" rx="1.7" ry="1.3" fill="#1a1a1a"/>
<line x1="202.80000000000004" y1="290.31" x2="203.80000000000004" y2="299.05" stroke="#1a1a1a" stroke-width="1.2"/>
<line x1="204.10000000000002" y1="290.31" x2="202.50000000000003" y2="299.05" stroke="#1a1a1a" stroke-width="0.9"/>
<line x1="157.11112172925058" y1="277.8721086584734" x2="159.0" y2="279.0" stroke="#3a2a08" stroke-width="0.9"/>
<line x1="156.39337269373365" y1="279.07412210349577" x2="157.82887076476752" y2="276.670095213451" stroke="#3a2a08" stroke-width="0.9"/>
<line x1="159.00" y1="279.00" x2="172.90" y2="287.30" stroke="#3a2a08" stroke-width="4.9"/>
<line x1="159.39" y1="279.23" x2="172.51" y2="287.07" stroke="#f5b935" stroke-width="4.0"/>
<line x1="207.2" y1="295.4" x2="211.5" y2="295.4" stroke="#1a1a1a" stroke-width="0.9"/>
<rect x="211.50" y="292.80" width="15.80" height="5.20" fill="#6a2c91" stroke="#3a1458" stroke-width="0.8"/>
<path d="M227.3,295.4 L230.6,292.3 L230.6,298.5 Z" fill="#2a1040"/>
<text x="208" y="285.5" font-size="10.4" fill="#1a1a1a">Assess <tspan font-style="italic">A.muciniphila</tspan></text>
<text x="156.25" y="320.8" font-size="10.4" text-anchor="start" fill="#1a1a1a">Stop ATB,</text>
<text x="156.25" y="333" font-size="10.4" fill="#1a1a1a">gavage <tspan font-style="italic">A. muciniphila</tspan></text>
<text x="367.5" y="222" font-size="10.4" text-anchor="start" fill="#1a1a1a">E</text>
<path d="M394.80,329.80 L394.80,261.34 L412.40,261.34 L412.40,329.80" fill="#fff" stroke="#2b2f9c" stroke-width="1.2" stroke-linejoin="miter"/>
<line x1="403.6" y1="329.8" x2="403.6" y2="334.0" stroke="#1a1a1a" stroke-width="1.1"/>
<line x1="403.6" y1="255.5" x2="403.6" y2="266.25" stroke="#2b2f9c" stroke-width="1.15"/>
<line x1="399.1" y1="255.5" x2="408.1" y2="255.5" stroke="#2b2f9c" stroke-width="1.15"/>
<line x1="399.1" y1="266.25" x2="408.1" y2="266.25" stroke="#2b2f9c" stroke-width="1.15"/>
<circle cx="403.6" cy="254.7" r="1.1" fill="#2b2f9c"/>
<circle cx="403.6" cy="261.5" r="1.1" fill="#2b2f9c"/>
<path d="M401.70000000000005,267.32 L405.5,267.32 L403.6,263.90000000000003 Z" fill="#2b2f9c"/>
<path d="M423.00,329.80 L423.00,262.97 L440.20,262.97 L440.20,329.80" fill="#fff" stroke="#cc3a3e" stroke-width="1.2" stroke-linejoin="miter"/>
<line x1="431.6" y1="329.8" x2="431.6" y2="334.0" stroke="#1a1a1a" stroke-width="1.1"/>
<line x1="431.6" y1="261.3" x2="431.6" y2="263.8" stroke="#cc3a3e" stroke-width="1.15"/>
<line x1="427.1" y1="261.3" x2="436.1" y2="261.3" stroke="#cc3a3e" stroke-width="1.15"/>
<line x1="427.1" y1="263.8" x2="436.1" y2="263.8" stroke="#cc3a3e" stroke-width="1.15"/>
<circle cx="431.6" cy="262.5" r="1.1" fill="#cc3a3e"/>
<line x1="385.2" y1="231.5" x2="385.2" y2="330.3" stroke="#1a1a1a" stroke-width="1.1"/>
<line x1="384.7" y1="329.8" x2="451" y2="329.8" stroke="#1a1a1a" stroke-width="1.1"/>
<line x1="381.0" y1="329.8" x2="385.2" y2="329.8" stroke="#1a1a1a" stroke-width="1.1"/>
<text x="378.4" y="333.284" font-size="10.4" text-anchor="end" fill="#1a1a1a">0</text>
<line x1="381.0" y1="310.24" x2="385.2" y2="310.24" stroke="#1a1a1a" stroke-width="1.1"/>
<text x="378.4" y="313.724" font-size="10.4" text-anchor="end" fill="#1a1a1a">3</text>
<line x1="381.0" y1="290.68" x2="385.2" y2="290.68" stroke="#1a1a1a" stroke-width="1.1"/>
<text x="378.4" y="294.164" font-size="10.4" text-anchor="end" fill="#1a1a1a">6</text>
<line x1="381.0" y1="271.12" x2="385.2" y2="271.12" stroke="#1a1a1a" stroke-width="1.1"/>
<text x="378.4" y="274.604" font-size="10.4" text-anchor="end" fill="#1a1a1a">9</text>
<line x1="381.0" y1="251.56" x2="385.2" y2="251.56" stroke="#1a1a1a" stroke-width="1.1"/>
<text x="378.4" y="255.044" font-size="10.4" text-anchor="end" fill="#1a1a1a">12</text>
<line x1="381.0" y1="232.0" x2="385.2" y2="232.0" stroke="#1a1a1a" stroke-width="1.1"/>
<text x="378.4" y="235.484" font-size="10.4" text-anchor="end" fill="#1a1a1a">15</text>
<text x="432" y="256.2" font-size="10.4" text-anchor="middle" fill="#1a1a1a">ns</text>
<text x="388.75" y="343.5" font-size="10.4" text-anchor="start" fill="#1a1a1a"><tspan font-style="italic">Yap1</tspan><tspan font-size="6.03" dy="-3.74">Flox</tspan></text>
<text x="420" y="343.5" font-size="10.4" text-anchor="start" fill="#1a1a1a"><tspan font-style="italic">Yap1</tspan><tspan font-size="6.03" dy="-3.74">LKO</tspan></text>
<text x="365.3" y="281.5" font-size="10.4" text-anchor="middle" fill="#1a1a1a" transform="rotate(-90 365.3 281.5)">16S CT cycles</text>
<text x="473.3" y="281" font-size="10.4" text-anchor="middle" fill="#1a1a1a" transform="rotate(-90 473.3 281)">Fold change of <tspan font-style="italic">A.muciniphila</tspan></text>
<path d="M505.10,329.80 L505.10,323.74 L522.00,323.74 L522.00,329.80" fill="#fff" stroke="#2b2f9c" stroke-width="1.2" stroke-linejoin="miter"/>
<line x1="513.55" y1="329.8" x2="513.55" y2="334.0" stroke="#1a1a1a" stroke-width="1.1"/>
<path d="M532.30,329.80 L532.30,269.42 L549.40,269.42 L549.40,329.80" fill="#fff" stroke="#cc3a3e" stroke-width="1.2" stroke-linejoin="miter"/>
<line x1="540.85" y1="329.8" x2="540.85" y2="334.0" stroke="#1a1a1a" stroke-width="1.1"/>
<line x1="540.85" y1="259.25" x2="540.85" y2="279.8" stroke="#cc3a3e" stroke-width="1.15"/>
<line x1="536.45" y1="259.25" x2="545.25" y2="259.25" stroke="#cc3a3e" stroke-width="1.15"/>
<line x1="536.45" y1="279.8" x2="545.25" y2="279.8" stroke="#cc3a3e" stroke-width="1.15"/>
<circle cx="540.85" cy="262" r="1.1" fill="#cc3a3e"/>
<circle cx="540.85" cy="266.5" r="1.1" fill="#cc3a3e"/>
<path d="M538.95,278.48 L542.75,278.48 L540.85,281.9 Z" fill="#cc3a3e"/>
<line x1="495.75" y1="231.5" x2="495.75" y2="330.3" stroke="#1a1a1a" stroke-width="1.1"/>
<line x1="495.25" y1="329.8" x2="559.5" y2="329.8" stroke="#1a1a1a" stroke-width="1.1"/>
<line x1="491.55" y1="329.8" x2="495.75" y2="329.8" stroke="#1a1a1a" stroke-width="1.1"/>
<text x="488.95" y="333.284" font-size="10.4" text-anchor="end" fill="#1a1a1a">0</text>
<line x1="491.55" y1="310.24" x2="495.75" y2="310.24" stroke="#1a1a1a" stroke-width="1.1"/>
<text x="488.95" y="313.724" font-size="10.4" text-anchor="end" fill="#1a1a1a">3</text>
<line x1="491.55" y1="290.68" x2="495.75" y2="290.68" stroke="#1a1a1a" stroke-width="1.1"/>
<text x="488.95" y="294.164" font-size="10.4" text-anchor="end" fill="#1a1a1a">6</text>
<line x1="491.55" y1="271.12" x2="495.75" y2="271.12" stroke="#1a1a1a" stroke-width="1.1"/>
<text x="488.95" y="274.604" font-size="10.4" text-anchor="end" fill="#1a1a1a">9</text>
<line x1="491.55" y1="251.56" x2="495.75" y2="251.56" stroke="#1a1a1a" stroke-width="1.1"/>
<text x="488.95" y="255.044" font-size="10.4" text-anchor="end" fill="#1a1a1a">12</text>
<line x1="491.55" y1="232.0" x2="495.75" y2="232.0" stroke="#1a1a1a" stroke-width="1.1"/>
<text x="488.95" y="235.484" font-size="10.4" text-anchor="end" fill="#1a1a1a">15</text>
<circle cx="507.5" cy="323.4" r="1.5" fill="#2b2f9c"/>
<circle cx="513.5" cy="323.4" r="1.5" fill="#2b2f9c"/>
<circle cx="519.5" cy="323.4" r="1.5" fill="#2b2f9c"/>
<text x="541.25" y="256.5" font-size="10.4" text-anchor="middle" fill="#1a1a1a">*</text>
<text x="494.5" y="343.4" font-size="10.4" text-anchor="start" fill="#1a1a1a"><tspan font-style="italic">Yap1</tspan><tspan font-size="6.03" dy="-3.74">Flox</tspan></text>
<text x="527.5" y="343.4" font-size="10.4" text-anchor="start" fill="#1a1a1a"><tspan font-style="italic">Yap1</tspan><tspan font-size="6.03" dy="-3.74">LKO</tspan></text>
<text x="20" y="368.2" font-size="10.4" text-anchor="start" fill="#1a1a1a">F</text>
<rect x="45.70" y="371.20" width="110.70" height="109.10" fill="#fff" stroke="#cfcfcf" stroke-width="0.8"/>
<line x1="45.7" y1="371.2" x2="45.7" y2="480.3" stroke="#666" stroke-width="0.9"/>
<line x1="45.7" y1="480.3" x2="156.4" y2="480.3" stroke="#777" stroke-width="0.9"/>
<text x="41" y="401.09999999999997" font-size="10.6" text-anchor="end" fill="#1a1a1a">6.50</text>
<line x1="44.2" y1="397.9" x2="45.7" y2="397.9" stroke="#666" stroke-width="0.7"/>
<text x="41" y="431.2" font-size="10.6" text-anchor="end" fill="#1a1a1a">6.25</text>
<line x1="44.2" y1="428" x2="45.7" y2="428" stroke="#666" stroke-width="0.7"/>
<text x="41" y="461.4" font-size="10.6" text-anchor="end" fill="#1a1a1a">6.00</text>
<line x1="44.2" y1="458.2" x2="45.7" y2="458.2" stroke="#666" stroke-width="0.7"/>
<text x="16.8" y="428.5" font-size="10.4" text-anchor="middle" fill="#1a1a1a" transform="rotate(-90 16.8 428.5)">Shannon</text>
<line x1="76.3" y1="459.5" x2="76.3" y2="466" stroke="#d9a0a8" stroke-width="0.7"/>
<rect x="56.40" y="462.90" width="38.60" height="2.50" fill="#8e1b30" stroke="#6e1224" stroke-width="0.5"/>
<line x1="126.3" y1="375.8" x2="126.3" y2="474.5" stroke="#888" stroke-width="0.8"/>
<rect x="107.70" y="400.20" width="38.00" height="43.30" fill="#0c14fa" stroke="#1a1ab0" stroke-width="0.8"/>
<line x1="107.7" y1="420.4" x2="145.7" y2="420.4" stroke="#0c0cd0" stroke-width="1.1"/>
<text x="59.8" y="491" font-size="10.4" text-anchor="start" fill="#1a1a1a"><tspan font-style="italic">Yap1</tspan><tspan font-size="6.03" dy="-3.74">Flox</tspan></text>
<text x="111.7" y="491" font-size="10.4" text-anchor="start" fill="#1a1a1a"><tspan font-style="italic">Yap1</tspan><tspan font-size="6.03" dy="-3.74">LKO</tspan></text>
<text x="165.9" y="368.8" font-size="10.4" text-anchor="start" fill="#1a1a1a">G</text>
<text x="251.7" y="371.8" font-size="10.4" text-anchor="middle" fill="#1a1a1a">Phylum</text>
<rect x="217.80" y="414.60" width="26.90" height="64.55" fill="#fb0018" stroke="none" stroke-width="1"/>
<rect x="217.80" y="398.20" width="26.90" height="16.65" fill="#0c14fa" stroke="none" stroke-width="1"/>
<rect x="217.80" y="396.90" width="26.90" height="1.55" fill="#2cb484" stroke="none" stroke-width="1"/>
<rect x="217.80" y="392.50" width="26.90" height="4.65" fill="#e48a3c" stroke="none" stroke-width="1"/>
<rect x="217.80" y="389.20" width="26.90" height="3.55" fill="#a81cc4" stroke="none" stroke-width="1"/>
<rect x="217.80" y="386.40" width="26.90" height="3.05" fill="#f9a8a4" stroke="none" stroke-width="1"/>
<rect x="217.80" y="384.80" width="26.90" height="1.85" fill="#d87a34" stroke="none" stroke-width="1"/>
<rect x="217.80" y="384.00" width="26.90" height="1.05" fill="#fff0a0" stroke="none" stroke-width="1"/>
<rect x="258.60" y="431.20" width="27.20" height="47.95" fill="#fb0018" stroke="none" stroke-width="1"/>
<rect x="258.60" y="401.90" width="27.20" height="29.55" fill="#0c14fa" stroke="none" stroke-width="1"/>
<rect x="258.60" y="395.80" width="27.20" height="6.35" fill="#2cb484" stroke="none" stroke-width="1"/>
<rect x="258.60" y="392.10" width="27.20" height="3.95" fill="#e48a3c" stroke="none" stroke-width="1"/>
<rect x="258.60" y="387.80" width="27.20" height="4.55" fill="#b41ac8" stroke="none" stroke-width="1"/>
<rect x="258.60" y="385.40" width="27.20" height="2.65" fill="#d83066" stroke="none" stroke-width="1"/>
<rect x="258.60" y="384.90" width="27.20" height="0.75" fill="#8a7a32" stroke="none" stroke-width="1"/>
<rect x="258.60" y="384.00" width="27.20" height="1.15" fill="#fff080" stroke="none" stroke-width="1"/>
<line x1="204.7" y1="383.5" x2="204.7" y2="479.4" stroke="#1a1a1a" stroke-width="1.1"/>
<line x1="204.2" y1="478.9" x2="299.6" y2="478.9" stroke="#1a1a1a" stroke-width="1.1"/>
<line x1="200.29999999999998" y1="478.9" x2="204.7" y2="478.9" stroke="#1a1a1a" stroke-width="1.1"/>
<text x="196.1" y="481.79999999999995" font-size="10.4" text-anchor="end" fill="#1a1a1a">0.00</text>
<line x1="200.29999999999998" y1="455.17499999999995" x2="204.7" y2="455.17499999999995" stroke="#1a1a1a" stroke-width="1.1"/>
<text x="196.1" y="458.07499999999993" font-size="10.4" text-anchor="end" fill="#1a1a1a">0.25</text>
<line x1="200.29999999999998" y1="431.45" x2="204.7" y2="431.45" stroke="#1a1a1a" stroke-width="1.1"/>
<text x="196.1" y="434.34999999999997" font-size="10.4" text-anchor="end" fill="#1a1a1a">0.50</text>
<line x1="200.29999999999998" y1="407.725" x2="204.7" y2="407.725" stroke="#1a1a1a" stroke-width="1.1"/>
<text x="196.1" y="410.625" font-size="10.4" text-anchor="end" fill="#1a1a1a">0.75</text>
<line x1="200.29999999999998" y1="384.0" x2="204.7" y2="384.0" stroke="#1a1a1a" stroke-width="1.1"/>
<text x="196.1" y="386.9" font-size="10.4" text-anchor="end" fill="#1a1a1a">1.00</text>
<line x1="231.3" y1="478.9" x2="231.3" y2="482.4" stroke="#1a1a1a" stroke-width="1.1"/>
<line x1="271.7" y1="478.9" x2="271.7" y2="482.4" stroke="#1a1a1a" stroke-width="1.1"/>
<text x="172" y="430.5" font-size="10.4" text-anchor="middle" fill="#1a1a1a" transform="rotate(-90 172 430.5)">Relative abundance (%)</text>
<text x="215.9" y="491.7" font-size="10.4" text-anchor="start" fill="#1a1a1a"><tspan font-style="italic">Yap1</tspan><tspan font-size="6.03" dy="-3.74">Flox</tspan></text>
<text x="255.7" y="491.7" font-size="10.4" text-anchor="start" fill="#1a1a1a"><tspan font-style="italic">Yap1</tspan><tspan font-size="6.03" dy="-3.74">LKO</tspan></text>
<rect x="290.60" y="371.30" width="9.90" height="3.40" fill="#f0c08c" stroke="none" stroke-width="1"/>
<text x="304.1" y="375.7" font-size="7.9" text-anchor="start" fill="#1a1a1a">Desulfobacterota</text>
<rect x="290.60" y="379.74" width="9.90" height="3.40" fill="#9a1ccc" stroke="none" stroke-width="1"/>
<text x="304.1" y="384.14" font-size="7.9" text-anchor="start" fill="#1a1a1a">Proteobacteria</text>
<rect x="290.60" y="388.18" width="9.90" height="3.40" fill="#e48a3c" stroke="none" stroke-width="1"/>
<text x="304.1" y="392.58" font-size="7.9" text-anchor="start" fill="#1a1a1a">Actinobacteriota</text>
<rect x="290.60" y="396.62" width="9.90" height="3.40" fill="#2cb484" stroke="none" stroke-width="1"/>
<text x="304.1" y="401.02" font-size="7.9" text-anchor="start" fill="#1a1a1a">Verrucomicrobiota</text>
<rect x="290.60" y="405.06" width="9.90" height="3.40" fill="#1010d0" stroke="none" stroke-width="1"/>
<text x="304.1" y="409.46" font-size="7.9" text-anchor="start" fill="#1a1a1a">Firmicutes</text>
<rect x="290.60" y="413.50" width="9.90" height="3.40" fill="#e0101c" stroke="none" stroke-width="1"/>
<text x="304.1" y="417.9" font-size="7.9" text-anchor="start" fill="#1a1a1a">Bacteroidota</text>
<rect x="290.60" y="421.94" width="9.90" height="3.40" fill="#d4208c" stroke="none" stroke-width="1"/>
<text x="304.1" y="426.34" font-size="7.9" text-anchor="start" fill="#1a1a1a">Unidentified_bacteria</text>
<rect x="290.60" y="430.38" width="9.90" height="3.40" fill="#f08484" stroke="none" stroke-width="1"/>
<text x="304.1" y="434.78" font-size="7.9" text-anchor="start" fill="#1a1a1a">Campilobacterota</text>
<rect x="290.60" y="438.82" width="9.90" height="3.40" fill="#32dd32" stroke="none" stroke-width="1"/>
<text x="304.1" y="443.21999999999997" font-size="7.9" text-anchor="start" fill="#1a1a1a">Chloroflexi</text>
<rect x="290.60" y="447.26" width="9.90" height="3.40" fill="#8a7a32" stroke="none" stroke-width="1"/>
<text x="304.1" y="451.65999999999997" font-size="7.9" text-anchor="start" fill="#1a1a1a">Acidobacteriota</text>
<rect x="290.60" y="455.70" width="9.90" height="3.40" fill="#ffee55" stroke="none" stroke-width="1"/>
<text x="304.1" y="460.09999999999997" font-size="7.9" text-anchor="start" fill="#1a1a1a">Others</text>
<text x="376.8" y="368.6" font-size="9.8" text-anchor="start" fill="#1a1a1a" font-weight="bold">H</text>
<rect x="429.20" y="476.40" width="27.20" height="1.70" fill="#1a0a50" stroke="none" stroke-width="1"/>
<rect x="429.20" y="472.30" width="27.20" height="4.40" fill="#f09060" stroke="none" stroke-width="1"/>
<rect x="429.20" y="468.70" width="27.20" height="3.90" fill="#7a48d0" stroke="none" stroke-width="1"/>
<rect x="429.20" y="467.40" width="27.20" height="1.60" fill="#5a1080" stroke="none" stroke-width="1"/>
<rect x="429.20" y="465.70" width="27.20" height="2.00" fill="#fff0a0" stroke="none" stroke-width="1"/>
<rect x="429.20" y="464.80" width="27.20" height="1.20" fill="#e88a3e" stroke="none" stroke-width="1"/>
<rect x="429.20" y="464.00" width="27.20" height="1.10" fill="#401060" stroke="none" stroke-width="1"/>
<rect x="429.20" y="463.10" width="27.20" height="1.20" fill="#fff4b0" stroke="none" stroke-width="1"/>
<rect x="429.20" y="460.50" width="27.20" height="2.90" fill="#58e0b4" stroke="none" stroke-width="1"/>
<rect x="429.20" y="459.30" width="27.20" height="1.50" fill="#e87c7c" stroke="none" stroke-width="1"/>
<rect x="429.20" y="384.60" width="27.20" height="75.00" fill="#d3d3d3" stroke="none" stroke-width="1"/>
<rect x="469.80" y="475.60" width="27.20" height="2.50" fill="#a01030" stroke="none" stroke-width="1"/>
<rect x="469.80" y="468.50" width="27.20" height="7.40" fill="#0c0cd8" stroke="none" stroke-width="1"/>
<rect x="469.80" y="467.70" width="27.20" height="1.10" fill="#706020" stroke="none" stroke-width="1"/>
<rect x="469.80" y="464.60" width="27.20" height="3.40" fill="#e88a3e" stroke="none" stroke-width="1"/>
<rect x="469.80" y="459.80" width="27.20" height="5.10" fill="#6a4ad8" stroke="none" stroke-width="1"/>
<rect x="469.80" y="457.40" width="27.20" height="2.70" fill="#c020a0" stroke="none" stroke-width="1"/>
<rect x="469.80" y="456.10" width="27.20" height="1.60" fill="#f080a0" stroke="none" stroke-width="1"/>
<rect x="469.80" y="384.60" width="27.20" height="71.80" fill="#d3d3d3" stroke="none" stroke-width="1"/>
<line x1="415.7" y1="384.1" x2="415.7" y2="478.3" stroke="#1a1a1a" stroke-width="1.1"/>
<line x1="415.2" y1="477.8" x2="510.8" y2="477.8" stroke="#1a1a1a" stroke-width="1.1"/>
<line x1="411.7" y1="477.8" x2="415.7" y2="477.8" stroke="#1a1a1a" stroke-width="1.1"/>
<text x="408.09999999999997" y="480.7" font-size="10.3" text-anchor="end" fill="#1a1a1a">0.00</text>
<line x1="411.7" y1="454.5" x2="415.7" y2="454.5" stroke="#1a1a1a" stroke-width="1.1"/>
<text x="408.09999999999997" y="457.4" font-size="10.3" text-anchor="end" fill="#1a1a1a">0.25</text>
<line x1="411.7" y1="431.20000000000005" x2="415.7" y2="431.20000000000005" stroke="#1a1a1a" stroke-width="1.1"/>
<text x="408.09999999999997" y="434.1" font-size="10.3" text-anchor="end" fill="#1a1a1a">0.50</text>
<line x1="411.7" y1="407.90000000000003" x2="415.7" y2="407.90000000000003" stroke="#1a1a1a" stroke-width="1.1"/>
<text x="408.09999999999997" y="410.8" font-size="10.3" text-anchor="end" fill="#1a1a1a">0.75</text>
<line x1="411.7" y1="384.6" x2="415.7" y2="384.6" stroke="#1a1a1a" stroke-width="1.1"/>
<text x="408.09999999999997" y="387.5" font-size="10.3" text-anchor="end" fill="#1a1a1a">1.00</text>
<line x1="442.7" y1="477.8" x2="442.7" y2="481.3" stroke="#1a1a1a" stroke-width="1.1"/>
<line x1="483.4" y1="477.8" x2="483.4" y2="481.3" stroke="#1a1a1a" stroke-width="1.1"/>
<text x="386" y="429.3" font-size="10.4" text-anchor="middle" fill="#1a1a1a" transform="rotate(-90 386 429.3)">Relative abundance (%)</text>
<text x="427" y="491.6" font-size="10.4" text-anchor="start" fill="#1a1a1a"><tspan font-style="italic">Yap1</tspan><tspan font-size="6.03" dy="-3.74">Flox</tspan></text>
<text x="467.5" y="491.6" font-size="10.4" text-anchor="start" fill="#1a1a1a"><tspan font-style="italic">Yap1</tspan><tspan font-size="6.03" dy="-3.74">LKO</tspan></text>
<rect x="503.00" y="371.80" width="9.90" height="3.20" fill="#6a0a7a" stroke="none" stroke-width="1"/>
<text x="516.9" y="376.0" font-size="7.9" text-anchor="start" fill="#1a1a1a">Faecalibaculum</text>
<rect x="503.00" y="380.39" width="9.90" height="3.20" fill="#5c5ce0" stroke="none" stroke-width="1"/>
<text x="516.9" y="384.59" font-size="7.9" text-anchor="start" fill="#1a1a1a">Alistipes</text>
<rect x="503.00" y="388.98" width="9.90" height="3.20" fill="#e88a3e" stroke="none" stroke-width="1"/>
<text x="516.9" y="393.18" font-size="7.9" text-anchor="start" fill="#1a1a1a">Bifidobacterium</text>
<rect x="503.00" y="397.57" width="9.90" height="3.20" fill="#1e6e1e" stroke="none" stroke-width="1"/>
<text x="516.9" y="401.77" font-size="7.9" text-anchor="start" fill="#1a1a1a">Prevotellaceae_Ga6A1_group</text>
<rect x="503.00" y="406.16" width="9.90" height="3.20" fill="#0c0cd8" stroke="none" stroke-width="1"/>
<text x="516.9" y="410.36" font-size="7.9" text-anchor="start" fill="#1a1a1a">Akkermansia</text>
<rect x="503.00" y="414.75" width="9.90" height="3.20" fill="#d4101e" stroke="none" stroke-width="1"/>
<text x="516.9" y="418.95" font-size="7.9" text-anchor="start" fill="#1a1a1a">Ligilactobacillus</text>
<rect x="503.00" y="423.34" width="9.90" height="3.20" fill="#ffff70" stroke="none" stroke-width="1"/>
<text x="516.9" y="427.54" font-size="7.9" text-anchor="start" fill="#1a1a1a">Lachnospiraceae_NK4A136_group</text>
<rect x="503.00" y="431.93" width="9.90" height="3.20" fill="#a012a0" stroke="none" stroke-width="1"/>
<text x="516.9" y="436.13" font-size="7.9" text-anchor="start" fill="#1a1a1a">Lactobacillus</text>
<rect x="503.00" y="440.52" width="9.90" height="3.20" fill="#58e0b4" stroke="none" stroke-width="1"/>
<text x="516.9" y="444.72" font-size="7.9" text-anchor="start" fill="#1a1a1a">Desulfovibrio</text>
<rect x="503.00" y="449.11" width="9.90" height="3.20" fill="#e87c7c" stroke="none" stroke-width="1"/>
<text x="516.9" y="453.31" font-size="7.9" text-anchor="start" fill="#1a1a1a">Dubosiella</text>
<rect x="503.00" y="457.70" width="9.90" height="3.20" fill="#d3d3d3" stroke="none" stroke-width="1"/>
<text x="516.9" y="461.9" font-size="7.9" text-anchor="start" fill="#1a1a1a">Others</text>
<text x="21.5" y="543.7" font-size="10" text-anchor="start" fill="#1a1a1a" font-family="Liberation Sans, sans-serif" stroke="#1a1a1a" stroke-width="0.3">I</text>
<text x="138.5" y="551.5" font-size="10.4" text-anchor="middle" fill="#1a1a1a">PCoA-PC1 vs PC2</text>
<rect x="63.60" y="556.40" width="152.40" height="132.90" fill="#fff" stroke="#d4d4d4" stroke-width="0.8"/>
<line x1="130.5" y1="556.4" x2="130.5" y2="689" stroke="#dcdcdc" stroke-width="0.6" stroke-dasharray="1,1.2"/>
<line x1="63.7" y1="624.1" x2="216" y2="624.1" stroke="#dcdcdc" stroke-width="0.6" stroke-dasharray="1,1.2"/>
<text x="60" y="563.8000000000001" font-size="10.4" text-anchor="end" fill="#1a1a1a">1.0</text>
<text x="60" y="595.7" font-size="10.4" text-anchor="end" fill="#1a1a1a">0.5</text>
<text x="60" y="627.6" font-size="10.4" text-anchor="end" fill="#1a1a1a">0</text>
<text x="60" y="659.5" font-size="10.4" text-anchor="end" fill="#1a1a1a">−0.5</text>
<text x="60" y="691.4" font-size="10.4" text-anchor="end" fill="#1a1a1a">−1.0</text>
<text x="88.41999999999999" y="701" font-size="10.4" text-anchor="middle" fill="#1a1a1a">−0.4</text>
<line x1="88.41999999999999" y1="689.2" x2="88.41999999999999" y2="691" stroke="#bbb" stroke-width="0.7"/>
<text x="130.5" y="701" font-size="10.4" text-anchor="middle" fill="#1a1a1a">0</text>
<line x1="130.5" y1="689.2" x2="130.5" y2="691" stroke="#bbb" stroke-width="0.7"/>
<text x="172.58" y="701" font-size="10.4" text-anchor="middle" fill="#1a1a1a">0.4</text>
<line x1="172.58" y1="689.2" x2="172.58" y2="691" stroke="#bbb" stroke-width="0.7"/>
<text x="214.66000000000003" y="701" font-size="10.4" text-anchor="middle" fill="#1a1a1a">0.8</text>
<line x1="214.66000000000003" y1="689.2" x2="214.66000000000003" y2="691" stroke="#bbb" stroke-width="0.7"/>
<text x="144" y="714" font-size="10.4" text-anchor="middle" fill="#1a1a1a">PC1 (32.78%)</text>
<text x="38.5" y="618" font-size="10.4" text-anchor="middle" fill="#1a1a1a" transform="rotate(-90 38.5 618)">PC2 (21.35%)</text>
<ellipse cx="105.9" cy="626.9" rx="54" ry="2.6" fill="none" stroke="#d8808c" stroke-width="0.7" transform="rotate(-48.75 105.9 626.9)"/>
<ellipse cx="155.5" cy="623.3" rx="77.6" ry="23.4" fill="none" stroke="#7c7cb4" stroke-width="0.7" transform="rotate(49 155.5 623.3)"/>
<circle cx="98.75" cy="636.6" r="1.2" fill="#d81e3c"/>
<circle cx="100.5" cy="633.1" r="1.2" fill="#d81e3c"/>
<circle cx="109.2" cy="622.5" r="1.2" fill="#d81e3c"/>
<circle cx="120.6" cy="611.7" r="1.2" fill="#d81e3c"/>
<circle cx="130.9" cy="601" r="1.2" fill="#1a1ab4"/>
<circle cx="163.4" cy="619.6" r="1.2" fill="#1a1ab4"/>
<circle cx="157.75" cy="625.4" r="1.2" fill="#1a1ab4"/>
<circle cx="164" cy="643.2" r="1.2" fill="#1a1ab4"/>
<rect x="155.80" y="562.10" width="5.00" height="3.90" fill="#d0283c" stroke="none" stroke-width="1"/>
<text x="165.3" y="567" font-size="10.4" text-anchor="start" fill="#1a1a1a"><tspan font-style="italic">Yap1</tspan><tspan font-size="6.03" dy="-3.74">Flox</tspan></text>
<circle cx="158.7" cy="578.9" r="2.3" fill="#1a1aa4"/>
<text x="165.3" y="582.2" font-size="10.4" text-anchor="start" fill="#1a1a1a"><tspan font-style="italic">Yap1</tspan><tspan font-size="6.03" dy="-3.74">LKO</tspan></text>
<text x="261.8" y="522.8" font-size="10" text-anchor="start" fill="#1a1a1a" font-family="Liberation Sans, sans-serif" stroke="#1a1a1a" stroke-width="0.3">J</text>
<rect x="281.40" y="514.80" width="16.50" height="4.60" fill="#108018" stroke="none" stroke-width="1"/>
<text x="301.8" y="520.2" font-size="10.4" text-anchor="start" fill="#1a1a1a"><tspan font-style="italic">Yap1</tspan><tspan font-size="6.03" dy="-3.74">Flox</tspan></text>
<rect x="346.00" y="514.80" width="16.20" height="4.60" fill="#fc0018" stroke="none" stroke-width="1"/>
<text x="365.9" y="520.2" font-size="10.4" text-anchor="start" fill="#1a1a1a"><tspan font-style="italic">Yap1</tspan><tspan font-size="6.03" dy="-3.74">LKO</tspan></text>
<line x1="275.5" y1="528" x2="275.5" y2="711" stroke="#808080" stroke-width="0.9" stroke-dasharray="1.6,2.3"/>
<line x1="275.5" y1="710.8" x2="275.5" y2="715.3" stroke="#444" stroke-width="0.9"/>
<text x="275.5" y="726.6" font-size="10.4" text-anchor="middle" fill="#1a1a1a">−6.0</text>
<line x1="304.6" y1="528" x2="304.6" y2="711" stroke="#808080" stroke-width="0.9" stroke-dasharray="1.6,2.3"/>
<line x1="304.6" y1="710.8" x2="304.6" y2="715.3" stroke="#444" stroke-width="0.9"/>
<text x="304.6" y="726.6" font-size="10.4" text-anchor="middle" fill="#1a1a1a">−4.8</text>
<line x1="333.7" y1="528" x2="333.7" y2="711" stroke="#808080" stroke-width="0.9" stroke-dasharray="1.6,2.3"/>
<line x1="333.7" y1="710.8" x2="333.7" y2="715.3" stroke="#444" stroke-width="0.9"/>
<text x="333.7" y="726.6" font-size="10.4" text-anchor="middle" fill="#1a1a1a">−3.6</text>
<line x1="362.8" y1="528" x2="362.8" y2="711" stroke="#808080" stroke-width="0.9" stroke-dasharray="1.6,2.3"/>
<line x1="362.8" y1="710.8" x2="362.8" y2="715.3" stroke="#444" stroke-width="0.9"/>
<text x="362.8" y="726.6" font-size="10.4" text-anchor="middle" fill="#1a1a1a">−2.4</text>
<line x1="391.9" y1="528" x2="391.9" y2="711" stroke="#808080" stroke-width="0.9" stroke-dasharray="1.6,2.3"/>
<line x1="391.9" y1="710.8" x2="391.9" y2="715.3" stroke="#444" stroke-width="0.9"/>
<text x="391.9" y="726.6" font-size="10.4" text-anchor="middle" fill="#1a1a1a">−1.2</text>
<line x1="421.0" y1="528" x2="421.0" y2="711" stroke="#808080" stroke-width="0.9" stroke-dasharray="1.6,2.3"/>
<line x1="421.0" y1="710.8" x2="421.0" y2="715.3" stroke="#444" stroke-width="0.9"/>
<text x="421.0" y="726.6" font-size="10.4" text-anchor="middle" fill="#1a1a1a">0.0</text>
<line x1="450.1" y1="528" x2="450.1" y2="711" stroke="#808080" stroke-width="0.9" stroke-dasharray="1.6,2.3"/>
<line x1="450.1" y1="710.8" x2="450.1" y2="715.3" stroke="#444" stroke-width="0.9"/>
<text x="450.1" y="726.6" font-size="10.4" text-anchor="middle" fill="#1a1a1a">1.2</text>
<line x1="479.2" y1="528" x2="479.2" y2="711" stroke="#808080" stroke-width="0.9" stroke-dasharray="1.6,2.3"/>
<line x1="479.2" y1="710.8" x2="479.2" y2="715.3" stroke="#444" stroke-width="0.9"/>
<text x="479.2" y="726.6" font-size="10.4" text-anchor="middle" fill="#1a1a1a">2.4</text>
<line x1="508.3" y1="528" x2="508.3" y2="711" stroke="#808080" stroke-width="0.9" stroke-dasharray="1.6,2.3"/>
<line x1="508.3" y1="710.8" x2="508.3" y2="715.3" stroke="#444" stroke-width="0.9"/>
<text x="508.3" y="726.6" font-size="10.4" text-anchor="middle" fill="#1a1a1a">3.6</text>
<line x1="537.4" y1="528" x2="537.4" y2="711" stroke="#808080" stroke-width="0.9" stroke-dasharray="1.6,2.3"/>
<line x1="537.4" y1="710.8" x2="537.4" y2="715.3" stroke="#444" stroke-width="0.9"/>
<text x="537.4" y="726.6" font-size="10.4" text-anchor="middle" fill="#1a1a1a">4.8</text>
<line x1="566.5" y1="528" x2="566.5" y2="711" stroke="#808080" stroke-width="0.9" stroke-dasharray="1.6,2.3"/>
<line x1="566.5" y1="710.8" x2="566.5" y2="715.3" stroke="#444" stroke-width="0.9"/>
<text x="566.5" y="726.6" font-size="10.4" text-anchor="middle" fill="#1a1a1a">6.0</text>
<rect x="421.30" y="536.00" width="121.68" height="8.60" fill="#108018" stroke="#031806" stroke-width="1.0"/>
<text x="418.6" y="543.3" font-size="10.5" text-anchor="end" fill="#1a1a1a">f<tspan dx="2.4">_Muribaculaceae</tspan></text>
<rect x="421.30" y="547.65" width="99.61" height="8.60" fill="#108018" stroke="#031806" stroke-width="1.0"/>
<text x="418.6" y="554.9499999999999" font-size="10.5" text-anchor="end" fill="#1a1a1a">C_Desulfovibrionia</text>
<rect x="421.30" y="559.30" width="99.12" height="8.60" fill="#108018" stroke="#031806" stroke-width="1.0"/>
<text x="418.6" y="566.5999999999999" font-size="10.5" text-anchor="end" fill="#1a1a1a">f<tspan dx="2.4">_Desulfovibrionaceae</tspan></text>
<rect x="421.30" y="570.95" width="99.12" height="8.60" fill="#108018" stroke="#031806" stroke-width="1.0"/>
<text x="418.6" y="578.25" font-size="10.5" text-anchor="end" fill="#1a1a1a">o_Desulfovibrionales</text>
<rect x="421.30" y="582.60" width="99.12" height="8.60" fill="#108018" stroke="#031806" stroke-width="1.0"/>
<text x="418.6" y="589.9" font-size="10.5" text-anchor="end" fill="#1a1a1a">p_Desulfobacterota</text>
<rect x="421.30" y="594.25" width="98.64" height="8.60" fill="#108018" stroke="#031806" stroke-width="1.0"/>
<text x="418.6" y="601.55" font-size="10.5" text-anchor="end" fill="#1a1a1a">g_Desulfovibrio</text>
<rect x="315.27" y="605.90" width="106.03" height="8.60" fill="#fc0018" stroke="#2a0004" stroke-width="1.0"/>
<text x="425.8" y="613.0999999999999" font-size="10.5" text-anchor="start" fill="#1a1a1a">p_Verrucomicrobiota</text>
<rect x="315.27" y="617.55" width="106.03" height="8.60" fill="#fc0018" stroke="#2a0004" stroke-width="1.0"/>
<text x="425.8" y="624.7499999999999" font-size="10.5" text-anchor="start" fill="#1a1a1a">c_Verrucomicrobiae</text>
<rect x="315.27" y="629.20" width="106.03" height="8.60" fill="#fc0018" stroke="#2a0004" stroke-width="1.0"/>
<text x="425.8" y="636.4" font-size="10.5" text-anchor="start" fill="#1a1a1a">o_Verrucomicrobiales</text>
<rect x="315.03" y="640.85" width="106.27" height="8.60" fill="#fc0018" stroke="#2a0004" stroke-width="1.0"/>
<text x="425.8" y="648.05" font-size="10.5" text-anchor="start" fill="#1a1a1a">s_Akkermansia_muciniphila</text>
<rect x="315.03" y="652.50" width="106.27" height="8.60" fill="#fc0018" stroke="#2a0004" stroke-width="1.0"/>
<text x="425.8" y="659.6999999999999" font-size="10.5" text-anchor="start" fill="#1a1a1a">f_Akkermansiaceae</text>
<rect x="315.03" y="664.15" width="106.27" height="8.60" fill="#fc0018" stroke="#2a0004" stroke-width="1.0"/>
<text x="425.8" y="671.3499999999999" font-size="10.5" text-anchor="start" fill="#1a1a1a">g_Akkermansia</text>
<rect x="310.66" y="675.80" width="110.64" height="8.60" fill="#fc0018" stroke="#2a0004" stroke-width="1.0"/>
<text x="425.8" y="682.9999999999999" font-size="10.5" text-anchor="start" fill="#1a1a1a">o_Clostridia_UCG_014</text>
<rect x="306.54" y="687.45" width="114.76" height="8.60" fill="#fc0018" stroke="#2a0004" stroke-width="1.0"/>
<text x="425.8" y="694.65" font-size="10.5" text-anchor="start" fill="#1a1a1a">c_Clostridia</text>
<rect x="303.14" y="699.10" width="118.16" height="8.60" fill="#fc0018" stroke="#2a0004" stroke-width="1.0"/>
<text x="425.8" y="706.3" font-size="10.5" text-anchor="start" fill="#1a1a1a">p_Firmicutes</text>
<text x="429" y="745.3" font-size="10.4" text-anchor="middle" fill="#1a1a1a">LDA score (log10)</text>
</svg>
</body></html>
